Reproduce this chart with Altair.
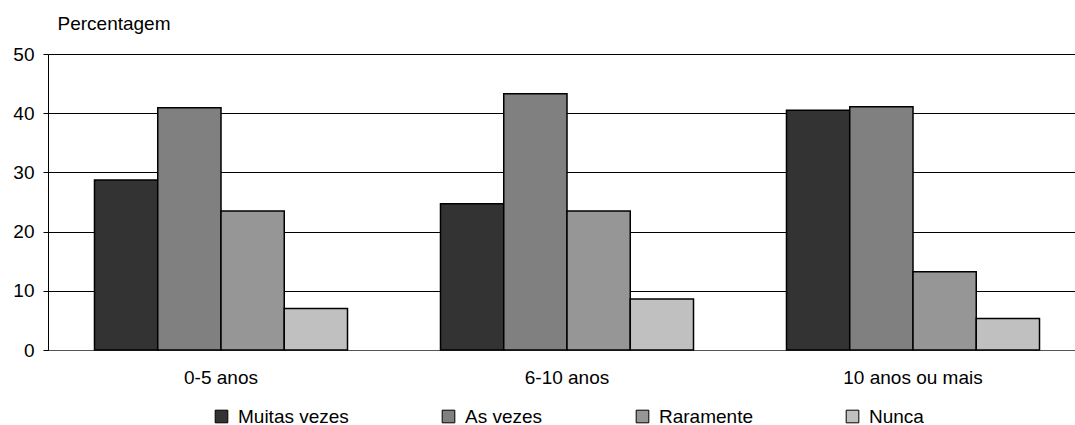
import altair as alt
import pandas as pd

# Frequency answers by years of experience (percent)
groups = ["0-5 anos", "6-10 anos", "10 anos ou mais"]
answers = ["Muitas vezes", "As vezes", "Raramente", "Nunca"]
muitas_vezes = [28.7, 24.7, 40.5]
as_vezes = [40.9, 43.3, 41.1]
raramente = [23.5, 23.5, 13.2]
nunca = [7.0, 8.6, 5.3]
fills = ["#333333", "#808080", "#969696", "#c0c0c0"]

series = [muitas_vezes, as_vezes, raramente, nunca]
rows = []
for answer, vals in zip(answers, series):
    for g, v in zip(groups, vals):
        rows.append({"grupo": g, "resposta": answer, "valor": v})
df = pd.DataFrame(rows)

FONT = "Liberation Sans"
FS = 19

bars = alt.Chart(df).mark_bar(stroke="black", strokeWidth=1.5).encode(
    x=alt.X(
        "grupo:N",
        sort=groups,
        scale=alt.Scale(range=[0, 1038], paddingInner=0, paddingOuter=0),
        axis=alt.Axis(
            title=None,
            labelAngle=0,
            labelFont=FONT,
            labelFontSize=FS,
            labelColor="black",
            labelPadding=18,
            ticks=False,
            domainColor="#555555",
            domainWidth=1,
            grid=False,
        ),
    ),
    xOffset=alt.XOffset(
        "resposta:N",
        sort=answers,
        scale=alt.Scale(paddingInner=0, paddingOuter=0.735),
    ),
    y=alt.Y(
        "valor:Q",
        scale=alt.Scale(domain=[0, 50], nice=False),
        axis=alt.Axis(
            values=[0, 10, 20, 30, 40, 50],
            title="Percentagem",
            titleAngle=0,
            titleAlign="left",
            titleBaseline="alphabetic",
            titleX=9,
            titleY=-25,
            titleFont=FONT,
            titleFontSize=FS,
            titleFontWeight="normal",
            titleColor="black",
            labelFont=FONT,
            labelFontSize=FS,
            labelColor="black",
            labelPadding=9,
            tickSize=5,
            tickColor="black",
            domainColor="black",
            gridColor="black",
            gridWidth=1,
        ),
    ),
    fill=alt.Fill(
        "resposta:N",
        sort=answers,
        scale=alt.Scale(domain=answers, range=fills),
        legend=alt.Legend(
            title=None,
            orient="none",
            direction="horizontal",
            columns=4,
            gridAlign="none",
            columnPadding=90,
            legendX=164,
            legendY=353,
            symbolType="square",
            symbolSize=160,
            symbolStrokeColor="black",
            symbolStrokeWidth=1,
            symbolOffset=0,
            labelOffset=7,
            labelFont=FONT,
            labelFontSize=FS,
            labelColor="black",
        ),
    ),
)

chart = bars.properties(
    width=1027,
    height=296,
    autosize=alt.AutoSizeParams(type="none"),
    padding={"left": 48, "top": 54, "right": 0, "bottom": 75},
).configure_view(stroke=None).configure(background="white")

chart.save("out.html", embed_options={"renderer": "svg", "actions": False})
